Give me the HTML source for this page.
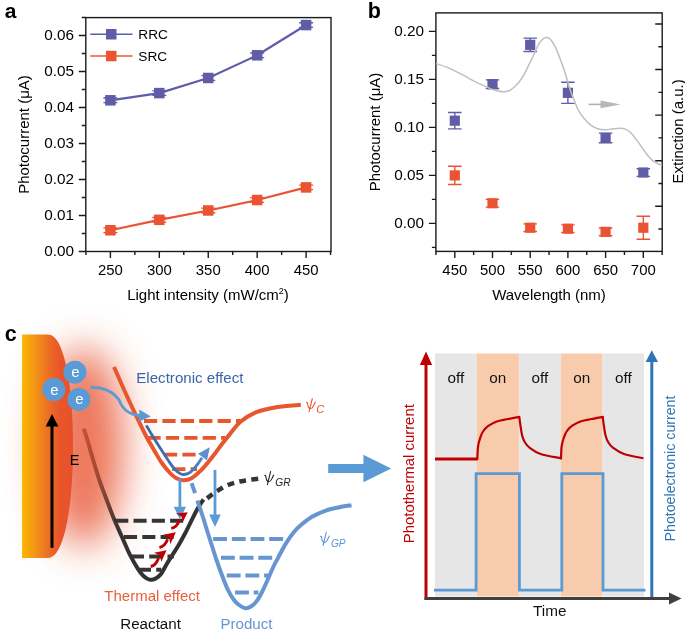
<!DOCTYPE html>
<html><head><meta charset="utf-8"><style>
html,body{margin:0;padding:0;background:#fff;}
svg{display:block;font-family:"Liberation Sans", sans-serif;will-change:transform;}
</style></head><body>
<svg width="685" height="632" viewBox="0 0 685 632">
<defs><filter id="glow" x="-100%" y="-100%" width="300%" height="300%"><feGaussianBlur stdDeviation="19"/></filter><linearGradient id="metal" x1="22" y1="0" x2="73" y2="0" gradientUnits="userSpaceOnUse"><stop offset="0" stop-color="#fbb800"/><stop offset="0.3" stop-color="#f28e1a"/><stop offset="0.55" stop-color="#ec6a26"/><stop offset="0.75" stop-color="#e8552b"/><stop offset="1" stop-color="#e8512a"/></linearGradient><linearGradient id="react" x1="84" y1="0" x2="120" y2="0" gradientUnits="userSpaceOnUse"><stop offset="0" stop-color="#c8512f"/><stop offset="0.4" stop-color="#9a4a35"/><stop offset="0.7" stop-color="#6a4035"/><stop offset="0.9" stop-color="#403535"/><stop offset="1" stop-color="#333"/></linearGradient><linearGradient id="dblue" x1="146" y1="0" x2="210" y2="0" gradientUnits="userSpaceOnUse"><stop offset="0" stop-color="#3a6aa6"/><stop offset="0.6" stop-color="#3f72b0"/><stop offset="1" stop-color="#5b8fd0"/></linearGradient></defs>
<text x="4.7" y="18.4" font-size="21" font-weight="bold">a</text>
<path d="M78.8,251.50H85.8M78.8,215.50H85.8M78.8,179.50H85.8M78.8,143.50H85.8M78.8,107.50H85.8M78.8,71.50H85.8M78.8,35.50H85.8M81.8,233.50H85.8M81.8,197.50H85.8M81.8,161.50H85.8M81.8,125.50H85.8M81.8,89.50H85.8M81.8,53.50H85.8M81.8,17.50H85.8M110.40,251.5V258.0M159.33,251.5V258.0M208.25,251.5V258.0M257.18,251.5V258.0M306.10,251.5V258.0M85.94,251.5V255.0M134.86,251.5V255.0M183.79,251.5V255.0M232.71,251.5V255.0M281.64,251.5V255.0M330.56,251.5V255.0" stroke="#1a1a1a" stroke-width="1.4" fill="none"/>
<rect x="85.8" y="17.6" width="245.2" height="233.9" stroke="#1a1a1a" stroke-width="1.4" fill="none"/>
<text x="74" y="256.20" font-size="15.3" text-anchor="end">0.00</text>
<text x="74" y="220.20" font-size="15.3" text-anchor="end">0.01</text>
<text x="74" y="184.20" font-size="15.3" text-anchor="end">0.02</text>
<text x="74" y="148.20" font-size="15.3" text-anchor="end">0.03</text>
<text x="74" y="112.20" font-size="15.3" text-anchor="end">0.04</text>
<text x="74" y="76.20" font-size="15.3" text-anchor="end">0.05</text>
<text x="74" y="40.20" font-size="15.3" text-anchor="end">0.06</text>
<text x="110.40" y="275.3" font-size="14.9" text-anchor="middle">250</text>
<text x="159.33" y="275.3" font-size="14.9" text-anchor="middle">300</text>
<text x="208.25" y="275.3" font-size="14.9" text-anchor="middle">350</text>
<text x="257.18" y="275.3" font-size="14.9" text-anchor="middle">400</text>
<text x="306.10" y="275.3" font-size="14.9" text-anchor="middle">450</text>
<text transform="translate(29.2,134.5) rotate(-90)" font-size="15" text-anchor="middle">Photocurrent (μA)</text>
<text x="208" y="299.6" font-size="15" text-anchor="middle">Light intensity (mW/cm<tspan font-size="9" dy="-6">2</tspan><tspan dy="6">)</tspan></text>
<polyline points="110.40,100.30 159.33,93.10 208.25,77.98 257.18,55.30 306.10,25.06" stroke="#605ca8" stroke-width="2.2" fill="none"/>
<path d="M103.40,98.00H117.40M103.40,102.60H117.40M110.40,98.00V102.60" stroke="#605ca8" stroke-width="1.3"/><rect x="105.15" y="95.05" width="10.5" height="10.5" fill="#605ca8"/>
<path d="M152.33,90.80H166.33M152.33,95.40H166.33M159.33,90.80V95.40" stroke="#605ca8" stroke-width="1.3"/><rect x="154.08" y="87.85" width="10.5" height="10.5" fill="#605ca8"/>
<path d="M201.25,75.68H215.25M201.25,80.28H215.25M208.25,75.68V80.28" stroke="#605ca8" stroke-width="1.3"/><rect x="203.00" y="72.73" width="10.5" height="10.5" fill="#605ca8"/>
<path d="M250.18,53.00H264.18M250.18,57.60H264.18M257.18,53.00V57.60" stroke="#605ca8" stroke-width="1.3"/><rect x="251.93" y="50.05" width="10.5" height="10.5" fill="#605ca8"/>
<path d="M299.10,22.76H313.10M299.10,27.36H313.10M306.10,22.76V27.36" stroke="#605ca8" stroke-width="1.3"/><rect x="300.85" y="19.81" width="10.5" height="10.5" fill="#605ca8"/>
<polyline points="110.40,230.26 159.33,219.82 208.25,210.46 257.18,200.02 306.10,187.42" stroke="#ea5432" stroke-width="2.2" fill="none"/>
<path d="M103.40,227.96H117.40M103.40,232.56H117.40M110.40,227.96V232.56" stroke="#ea5432" stroke-width="1.3"/><rect x="105.15" y="225.01" width="10.5" height="10.5" fill="#ea5432"/>
<path d="M152.33,217.52H166.33M152.33,222.12H166.33M159.33,217.52V222.12" stroke="#ea5432" stroke-width="1.3"/><rect x="154.08" y="214.57" width="10.5" height="10.5" fill="#ea5432"/>
<path d="M201.25,208.16H215.25M201.25,212.76H215.25M208.25,208.16V212.76" stroke="#ea5432" stroke-width="1.3"/><rect x="203.00" y="205.21" width="10.5" height="10.5" fill="#ea5432"/>
<path d="M250.18,197.72H264.18M250.18,202.32H264.18M257.18,197.72V202.32" stroke="#ea5432" stroke-width="1.3"/><rect x="251.93" y="194.77" width="10.5" height="10.5" fill="#ea5432"/>
<path d="M299.10,185.12H313.10M299.10,189.72H313.10M306.10,185.12V189.72" stroke="#ea5432" stroke-width="1.3"/><rect x="300.85" y="182.17" width="10.5" height="10.5" fill="#ea5432"/>
<path d="M90.3,34.2H132.6" stroke="#605ca8" stroke-width="1.6"/>
<rect x="106" y="29" width="10.5" height="10.5" fill="#605ca8"/>
<text x="138.3" y="38.9" font-size="13.7">RRC</text>
<path d="M90.3,56H132.6" stroke="#ea5432" stroke-width="1.6"/>
<rect x="106" y="50.8" width="10.5" height="10.5" fill="#ea5432"/>
<text x="138.3" y="60.8" font-size="13.7">SRC</text>
<text x="367.8" y="17.9" font-size="21.5" font-weight="bold">b</text>
<path d="M428.9,223.40H435.9M428.9,175.40H435.9M428.9,127.40H435.9M428.9,79.40H435.9M428.9,31.40H435.9M431.9,247.40H435.9M431.9,199.40H435.9M431.9,151.40H435.9M431.9,103.40H435.9M431.9,55.40H435.9M454.80,251.4V257.9M492.50,251.4V257.9M530.20,251.4V257.9M567.90,251.4V257.9M605.60,251.4V257.9M643.30,251.4V257.9M435.95,251.4V254.9M473.65,251.4V254.9M511.35,251.4V254.9M549.05,251.4V254.9M586.75,251.4V254.9M624.45,251.4V254.9M662.15,251.4V254.9M655.2,24.00H662.2M658.4000000000001,46.78H662.2M655.2,69.56H662.2M658.4000000000001,92.34H662.2M655.2,115.12H662.2M658.4000000000001,137.90H662.2M655.2,160.68H662.2M658.4000000000001,183.46H662.2M655.2,206.24H662.2M658.4000000000001,229.02H662.2" stroke="#1a1a1a" stroke-width="1.4" fill="none"/>
<rect x="435.9" y="12.9" width="226.30000000000007" height="238.5" stroke="#1a1a1a" stroke-width="1.4" fill="none"/>
<text x="424" y="228.10" font-size="15.3" text-anchor="end">0.00</text>
<text x="424" y="180.10" font-size="15.3" text-anchor="end">0.05</text>
<text x="424" y="132.10" font-size="15.3" text-anchor="end">0.10</text>
<text x="424" y="84.10" font-size="15.3" text-anchor="end">0.15</text>
<text x="424" y="36.10" font-size="15.3" text-anchor="end">0.20</text>
<text x="454.80" y="275.3" font-size="14.9" text-anchor="middle">450</text>
<text x="492.50" y="275.3" font-size="14.9" text-anchor="middle">500</text>
<text x="530.20" y="275.3" font-size="14.9" text-anchor="middle">550</text>
<text x="567.90" y="275.3" font-size="14.9" text-anchor="middle">600</text>
<text x="605.60" y="275.3" font-size="14.9" text-anchor="middle">650</text>
<text x="643.30" y="275.3" font-size="14.9" text-anchor="middle">700</text>
<text transform="translate(380,132) rotate(-90)" font-size="15" text-anchor="middle">Photocurrent (μA)</text>
<text transform="translate(682.6,131.4) rotate(-90)" font-size="15" text-anchor="middle">Extinction (a.u.)</text>
<text x="549" y="299.6" font-size="15" text-anchor="middle">Wavelength (nm)</text>
<path d="M448.05,112.52H461.55M448.05,128.84H461.55M454.80,112.52V128.84" stroke="#605ca8" stroke-width="1.4"/><rect x="449.70" y="115.58" width="10.2" height="10.2" fill="#605ca8"/>
<path d="M485.75,79.88H499.25M485.75,88.52H499.25M492.50,79.88V88.52" stroke="#605ca8" stroke-width="1.4"/><rect x="487.40" y="79.10" width="10.2" height="10.2" fill="#605ca8"/>
<path d="M523.45,38.12H536.95M523.45,51.56H536.95M530.20,38.12V51.56" stroke="#605ca8" stroke-width="1.4"/><rect x="525.10" y="39.74" width="10.2" height="10.2" fill="#605ca8"/>
<path d="M561.15,82.28H574.65M561.15,103.40H574.65M567.90,82.28V103.40" stroke="#605ca8" stroke-width="1.4"/><rect x="562.80" y="87.74" width="10.2" height="10.2" fill="#605ca8"/>
<path d="M598.85,133.16H612.35M598.85,142.76H612.35M605.60,133.16V142.76" stroke="#605ca8" stroke-width="1.4"/><rect x="600.50" y="132.86" width="10.2" height="10.2" fill="#605ca8"/>
<path d="M636.55,168.68H650.05M636.55,176.36H650.05M643.30,168.68V176.36" stroke="#605ca8" stroke-width="1.4"/><rect x="638.20" y="167.42" width="10.2" height="10.2" fill="#605ca8"/>
<path d="M448.05,166.28H461.55M448.05,184.52H461.55M454.80,166.28V184.52" stroke="#ea5432" stroke-width="1.4"/><rect x="449.70" y="170.30" width="10.2" height="10.2" fill="#ea5432"/>
<path d="M485.75,199.40H499.25M485.75,207.08H499.25M492.50,199.40V207.08" stroke="#ea5432" stroke-width="1.4"/><rect x="487.40" y="198.14" width="10.2" height="10.2" fill="#ea5432"/>
<path d="M523.45,223.88H536.95M523.45,231.56H536.95M530.20,223.88V231.56" stroke="#ea5432" stroke-width="1.4"/><rect x="525.10" y="222.62" width="10.2" height="10.2" fill="#ea5432"/>
<path d="M561.15,224.84H574.65M561.15,232.52H574.65M567.90,224.84V232.52" stroke="#ea5432" stroke-width="1.4"/><rect x="562.80" y="223.58" width="10.2" height="10.2" fill="#ea5432"/>
<path d="M598.85,228.01H612.35M598.85,235.69H612.35M605.60,228.01V235.69" stroke="#ea5432" stroke-width="1.4"/><rect x="600.50" y="226.75" width="10.2" height="10.2" fill="#ea5432"/>
<path d="M636.55,216.20H650.05M636.55,239.24H650.05M643.30,216.20V239.24" stroke="#ea5432" stroke-width="1.4"/><rect x="638.20" y="222.62" width="10.2" height="10.2" fill="#ea5432"/>
<path d="M436.00,63.50C438.18,64.27 444.72,66.23 449.10,68.10C453.48,69.97 457.92,72.40 462.30,74.70C466.68,77.00 471.02,79.72 475.40,81.90C479.78,84.08 485.32,86.42 488.60,87.80C491.88,89.18 492.70,89.53 495.10,90.20C497.50,90.87 500.58,91.75 503.00,91.80C505.42,91.85 507.60,91.42 509.60,90.50C511.60,89.58 513.32,87.83 515.00,86.30C516.68,84.77 518.12,83.40 519.70,81.30C521.28,79.20 522.92,76.55 524.50,73.70C526.08,70.85 527.62,67.45 529.20,64.20C530.78,60.95 532.42,57.53 534.00,54.20C535.58,50.87 537.12,46.82 538.70,44.20C540.28,41.58 542.18,39.62 543.50,38.50C544.82,37.38 545.50,37.42 546.60,37.50C547.70,37.58 548.72,37.57 550.10,39.00C551.48,40.43 553.32,43.02 554.90,46.10C556.48,49.18 558.02,53.38 559.60,57.50C561.18,61.62 562.97,66.52 564.40,70.80C565.83,75.08 567.03,79.45 568.20,83.20C569.37,86.95 570.40,90.45 571.40,93.30C572.40,96.15 573.05,97.52 574.20,100.30C575.35,103.08 576.68,107.00 578.30,110.00C579.92,113.00 581.82,115.77 583.90,118.30C585.98,120.83 588.50,123.47 590.80,125.20C593.10,126.93 595.38,127.95 597.70,128.70C600.02,129.45 602.38,129.63 604.70,129.70C607.02,129.77 609.07,129.33 611.60,129.10C614.13,128.87 617.58,128.30 619.90,128.30C622.22,128.30 623.65,128.33 625.50,129.10C627.35,129.87 628.92,130.77 631.00,132.90C633.08,135.03 635.68,138.78 638.00,141.90C640.32,145.02 642.60,148.60 644.90,151.60C647.20,154.60 649.48,157.83 651.80,159.90C654.12,161.97 657.10,163.07 658.80,164.00C660.50,164.93 661.47,165.25 662.00,165.50" stroke="#bfbfbf" stroke-width="1.5" fill="none"/>
<path d="M588.7,104.4H601" stroke="#b3b3b3" stroke-width="1.6"/><path d="M600.5,100.6L620.6,104.4L600.5,108.2Z" fill="#b8b8b8"/>
<g filter="url(#glow)"><ellipse cx="84" cy="447" rx="40" ry="100" fill="#e8502a" opacity="0.78"/></g>
<path d="M22,334.6H48C64,334.6 73,385 73,446C73,507 64,558 48,558H22Z" fill="url(#metal)"/>
<path d="M52,547.8V424" stroke="#000" stroke-width="3"/>
<path d="M52,414L58.4,426.5L45.6,426.5Z" fill="#000"/>
<text x="69.8" y="465" font-size="14.5">E</text>
<circle cx="74.9" cy="372.2" r="11.5" fill="#5b9bd5"/>
<text x="75.4" y="377.2" font-size="15" fill="#fff" text-anchor="middle">e</text>
<circle cx="53.8" cy="389.5" r="11.5" fill="#5b9bd5"/>
<text x="54.3" y="394.5" font-size="15" fill="#fff" text-anchor="middle">e</text>
<circle cx="78.9" cy="399.4" r="11.5" fill="#5b9bd5"/>
<text x="79.4" y="404.4" font-size="15" fill="#fff" text-anchor="middle">e</text>
<path d="M83.70,428.70C84.17,430.08 85.32,433.12 86.50,437.00C87.68,440.88 89.30,446.83 90.80,452.00C92.30,457.17 93.92,462.83 95.50,468.00C97.08,473.17 98.72,478.42 100.30,483.00C101.88,487.58 103.47,491.42 105.00,495.50C106.53,499.58 107.93,503.42 109.50,507.50C111.07,511.58 112.28,515.00 114.40,520.00C116.52,525.00 119.60,531.68 122.20,537.50C124.80,543.32 127.38,549.68 130.00,554.90C132.62,560.12 135.65,565.28 137.90,568.80C140.15,572.32 141.57,574.20 143.50,576.00C145.43,577.80 147.50,579.17 149.50,579.60C151.50,580.03 153.58,579.53 155.50,578.60C157.42,577.67 159.03,576.60 161.00,574.00C162.97,571.40 165.35,566.25 167.30,563.00C169.25,559.75 170.75,557.60 172.70,554.50C174.65,551.40 176.90,547.98 179.00,544.40C181.10,540.82 183.20,537.02 185.30,533.00C187.40,528.98 189.70,524.10 191.60,520.30C193.50,516.50 195.22,512.95 196.70,510.20C198.18,507.45 199.35,505.58 200.50,503.80C201.65,502.02 203.08,500.22 203.60,499.50" stroke="url(#react)" stroke-width="4" fill="none"/>
<path d="M115.2,520.8H184.5" stroke="#353535" stroke-width="4" stroke-dasharray="13.1,5.2"/>
<path d="M124,537H175" stroke="#353535" stroke-width="4" stroke-dasharray="13.1,5.2"/>
<path d="M130.9,556.6H173.8" stroke="#353535" stroke-width="4" stroke-dasharray="13.1,5.2"/>
<path d="M137.9,569.8H161.3" stroke="#353535" stroke-width="4" stroke-dasharray="13.1,5.2"/>
<path d="M207.20,498.30C208.27,497.50 210.78,495.42 213.60,493.50C216.42,491.58 220.45,488.63 224.10,486.80C227.75,484.97 231.68,483.60 235.50,482.50C239.32,481.40 242.92,480.87 247.00,480.20C251.08,479.53 257.83,478.78 260.00,478.50" stroke="#353535" stroke-width="4.6" stroke-dasharray="6.8,5.4" fill="none"/>
<path d="M114.00,367.00C115.92,371.33 121.60,384.43 125.50,393.00C129.40,401.57 133.98,411.23 137.40,418.40C140.82,425.57 143.28,430.82 146.00,436.00C148.72,441.18 151.12,445.08 153.70,449.50C156.28,453.92 158.78,458.58 161.50,462.50C164.22,466.42 167.58,470.42 170.00,473.00C172.42,475.58 173.78,476.80 176.00,478.00C178.22,479.20 180.80,480.12 183.30,480.20C185.80,480.28 188.10,480.10 191.00,478.50C193.90,476.90 197.75,473.43 200.70,470.60C203.65,467.77 206.32,464.35 208.70,461.50C211.08,458.65 212.78,456.42 215.00,453.50C217.22,450.58 219.62,447.10 222.00,444.00C224.38,440.90 226.22,438.60 229.30,434.90C232.38,431.20 236.08,425.55 240.50,421.80C244.92,418.05 249.83,414.82 255.80,412.40C261.77,409.98 268.80,408.57 276.30,407.30C283.80,406.03 296.72,405.22 300.80,404.80" stroke="#e8562e" stroke-width="4" fill="none"/>
<path d="M144,421H240.5" stroke="#e8562e" stroke-width="3.8" stroke-dasharray="13.2,5.2"/>
<path d="M147.5,437.9H225.2" stroke="#e8562e" stroke-width="3.8" stroke-dasharray="13.2,5.2"/>
<path d="M164,454.6H199" stroke="#e8562e" stroke-width="3.8" stroke-dasharray="13.2,5.2"/>
<path d="M172.2,469.2H197" stroke="#e8562e" stroke-width="3.8" stroke-dasharray="13.2,5.2"/>
<path d="M90.50,387.40C92.32,387.57 97.93,387.55 101.40,388.40C104.87,389.25 108.47,390.73 111.30,392.50C114.13,394.27 116.73,396.95 118.40,399.00C120.07,401.05 120.12,402.97 121.30,404.80C122.48,406.63 123.70,408.48 125.50,410.00C127.30,411.52 129.68,412.93 132.10,413.90C134.52,414.87 138.68,415.48 140.00,415.80" stroke="#5b9bd5" stroke-width="2.8" fill="none"/>
<path d="M150.80,416.60L138.48,421.78L139.52,409.42Z" fill="#5b9bd5"/>
<path d="M146.30,425.40C147.25,427.00 149.72,431.27 152.00,435.00C154.28,438.73 157.33,443.63 160.00,447.80C162.67,451.97 165.50,456.38 168.00,460.00C170.50,463.62 172.65,467.12 175.00,469.50C177.35,471.88 179.60,473.80 182.10,474.30C184.60,474.80 187.52,474.05 190.00,472.50C192.48,470.95 194.98,467.47 197.00,465.00C199.02,462.53 201.25,458.92 202.10,457.70" stroke="url(#dblue)" stroke-width="2.8" fill="none"/>
<path d="M209.80,447.20L206.99,460.35L198.01,453.65Z" fill="#5b8fd0"/>
<path d="M179.9,478.2V508" stroke="#5b9bd5" stroke-width="2.8"/>
<path d="M179.90,519.50L173.80,506.80L186.00,506.80Z" fill="#5b9bd5"/>
<path d="M215,469.9V516" stroke="#5b9bd5" stroke-width="2.8"/>
<path d="M215.00,527.00L209.20,514.50L220.80,514.50Z" fill="#5b9bd5"/>
<path d="M191.6,483.2L196.6,497.5" stroke="#6795cf" stroke-width="4" stroke-dasharray="10.5,6"/>
<path d="M197.40,500.50C198.32,503.25 201.22,511.75 202.90,517.00C204.58,522.25 206.03,527.33 207.50,532.00C208.97,536.67 210.20,540.33 211.70,545.00C213.20,549.67 214.80,555.00 216.50,560.00C218.20,565.00 220.07,570.17 221.90,575.00C223.73,579.83 225.55,584.92 227.50,589.00C229.45,593.08 231.68,596.83 233.60,599.50C235.52,602.17 237.05,603.55 239.00,605.00C240.95,606.45 243.30,607.95 245.30,608.20C247.30,608.45 249.07,607.72 251.00,606.50C252.93,605.28 254.98,603.48 256.90,600.90C258.82,598.32 260.55,594.88 262.50,591.00C264.45,587.12 266.77,581.68 268.60,577.60C270.43,573.52 271.95,569.75 273.50,566.50C275.05,563.25 275.85,561.92 277.90,558.10C279.95,554.28 283.18,547.88 285.80,543.60C288.42,539.32 290.98,535.57 293.60,532.40C296.22,529.23 298.43,527.22 301.50,524.60C304.57,521.98 308.05,519.00 312.00,516.70C315.95,514.40 320.82,512.33 325.20,510.80C329.58,509.27 333.92,508.43 338.30,507.50C342.68,506.57 349.30,505.58 351.50,505.20" stroke="#6795cf" stroke-width="4" fill="none"/>
<path d="M213.1,538.9H284" stroke="#6795cf" stroke-width="4" stroke-dasharray="13.9,4.8"/>
<path d="M220.9,557.8H273" stroke="#6795cf" stroke-width="4" stroke-dasharray="13.9,4.8"/>
<path d="M226.7,575.4H268.6" stroke="#6795cf" stroke-width="4" stroke-dasharray="13.9,4.8"/>
<path d="M235,592.4H258.4" stroke="#6795cf" stroke-width="4" stroke-dasharray="13.9,4.8"/>
<path d="M150.7,566.5Q156,565.5 158.6,558" stroke="#c00000" stroke-width="2.9" fill="none"/>
<path d="M166.60,550.30L161.19,561.95L160.12,555.41L154.01,552.85Z" fill="#c00000"/>
<path d="M159.4,547.6Q165,546.2 167.6,539.2" stroke="#c00000" stroke-width="2.9" fill="none"/>
<path d="M175.90,532.30L170.21,544.17L169.20,537.48L162.99,534.83Z" fill="#c00000"/>
<path d="M171.2,528.4Q177,527.6 179.6,519.6" stroke="#c00000" stroke-width="2.9" fill="none"/>
<path d="M187.70,512.20L182.43,522.78L181.58,516.52L175.97,513.62Z" fill="#c00000"/>
<text x="136.3" y="382.8" font-size="15.1" fill="#3a64aa">Electronic effect</text>
<path d="M306.50,402.40C307.40,401.90 307.70,404.10 308.10,406.10C308.40,407.80 309.30,408.70 310.40,408.70C311.70,408.70 312.70,407.60 313.50,405.80C314.20,404.30 314.70,403.00 315.40,402.10M312.30,398.50L309.10,411.60" stroke="#e8562e" stroke-width="1.1" fill="none" stroke-linecap="round"/>
<text x="316.3" y="412.6" font-size="11.2" font-style="italic" fill="#e8562e">C</text>
<path d="M264.80,475.50C265.70,475.00 266.00,477.20 266.40,479.20C266.70,480.90 267.60,481.80 268.70,481.80C270.00,481.80 271.00,480.70 271.80,478.90C272.50,477.40 273.00,476.10 273.70,475.20M270.60,471.60L267.40,484.70" stroke="#222" stroke-width="1.1" fill="none" stroke-linecap="round"/>
<text x="275.3" y="485.6" font-size="10.2" font-style="italic" fill="#222">GR</text>
<path d="M320.50,536.30C321.40,535.80 321.70,538.00 322.10,540.00C322.40,541.70 323.30,542.60 324.40,542.60C325.70,542.60 326.70,541.50 327.50,539.70C328.20,538.20 328.70,536.90 329.40,536.00M326.30,532.40L323.10,545.50" stroke="#5b9bd5" stroke-width="1.1" fill="none" stroke-linecap="round"/>
<text x="330.9" y="547.2" font-size="10.2" font-style="italic" fill="#5b9bd5">GP</text>
<text x="104.3" y="601.2" font-size="15" fill="#e85f3a">Thermal effect</text>
<text x="120.2" y="628.6" font-size="15.2" fill="#111">Reactant</text>
<text x="220.4" y="628.6" font-size="15.1" fill="#6795cf">Product</text>
<path d="M328.2,463.9H363.4V454.8L391.2,468.4L363.4,482.2V473H328.2Z" fill="#5b9bd5"/>
<rect x="435" y="353.5" width="41.60" height="243" fill="#e6e6e6"/>
<rect x="476.6" y="353.5" width="42.30" height="243" fill="#f8cbad"/>
<rect x="518.9" y="353.5" width="41.90" height="243" fill="#e6e6e6"/>
<rect x="560.8" y="353.5" width="41.80" height="243" fill="#f8cbad"/>
<rect x="602.6" y="353.5" width="41.40" height="243" fill="#e6e6e6"/>
<text x="455.80" y="383.3" font-size="15.3" text-anchor="middle" fill="#111">off</text>
<text x="497.75" y="383.3" font-size="15.3" text-anchor="middle" fill="#111">on</text>
<text x="539.85" y="383.3" font-size="15.3" text-anchor="middle" fill="#111">off</text>
<text x="581.70" y="383.3" font-size="15.3" text-anchor="middle" fill="#111">on</text>
<text x="623.30" y="383.3" font-size="15.3" text-anchor="middle" fill="#111">off</text>
<path d="M435,459H477.3C477.43,456.83 477.60,449.58 478.10,446.00C478.60,442.42 479.48,439.92 480.30,437.50C481.12,435.08 481.67,433.43 483.00,431.50C484.33,429.57 485.88,427.60 488.30,425.90C490.72,424.20 494.22,422.45 497.50,421.30C500.78,420.15 504.37,419.75 508.00,419.00C511.63,418.25 517.42,417.17 519.30,416.80C519.50,418.33 520.02,422.85 520.50,426.00C520.98,429.15 521.45,432.95 522.20,435.70C522.95,438.45 523.73,440.47 525.00,442.50C526.27,444.53 527.20,445.98 529.80,447.90C532.40,449.82 535.48,452.28 540.60,454.00C545.72,455.72 557.18,457.50 560.50,458.20L561.00,458.50C561.12,456.42 561.22,449.50 561.70,446.00C562.18,442.50 563.08,439.92 563.90,437.50C564.72,435.08 565.27,433.43 566.60,431.50C567.93,429.57 569.48,427.60 571.90,425.90C574.32,424.20 577.82,422.45 581.10,421.30C584.38,420.15 587.97,419.75 591.60,419.00C595.23,418.25 601.02,417.17 602.90,416.80C602.90,418.33 603.42,422.85 603.90,426.00C604.38,429.15 604.85,432.95 605.60,435.70C606.35,438.45 607.13,440.47 608.40,442.50C609.67,444.53 610.60,445.98 613.20,447.90C615.80,449.82 618.95,452.27 624.00,454.00C629.05,455.73 640.25,457.58 643.50,458.30" stroke="#c00000" stroke-width="2.2" fill="none" stroke-linejoin="round"/>
<path d="M435,459H477.8" stroke="#c00000" stroke-width="3"/>
<path d="M434,590.2H476.1V473.7H519.4V590.2H561.8V473.7H603V590.2H645.5" stroke="#5b9bd5" stroke-width="2.8" fill="none"/>
<path d="M426,600V362" stroke="#c00000" stroke-width="3"/>
<path d="M426,351.5L432.2,365L419.8,365Z" fill="#c00000"/>
<path d="M651.8,600V358" stroke="#2e75b6" stroke-width="3"/>
<path d="M651.8,350.2L658,362L645.6,362Z" fill="#2e75b6"/>
<path d="M424.5,598.5H671" stroke="#404040" stroke-width="3"/>
<path d="M681.5,598.5L669,592.6L669,604.4Z" fill="#404040"/>
<text x="549.8" y="616" font-size="15.3" text-anchor="middle" fill="#111">Time</text>
<text transform="translate(413.8,473.7) rotate(-90)" font-size="14.9" text-anchor="middle" fill="#c00000">Photothermal current</text>
<text transform="translate(674.5,468.5) rotate(-90)" font-size="14.2" text-anchor="middle" fill="#2e75b6">Photoelectronic current</text>
<text x="4.8" y="340.9" font-size="21.5" font-weight="bold">c</text>
</svg>
</body></html>
